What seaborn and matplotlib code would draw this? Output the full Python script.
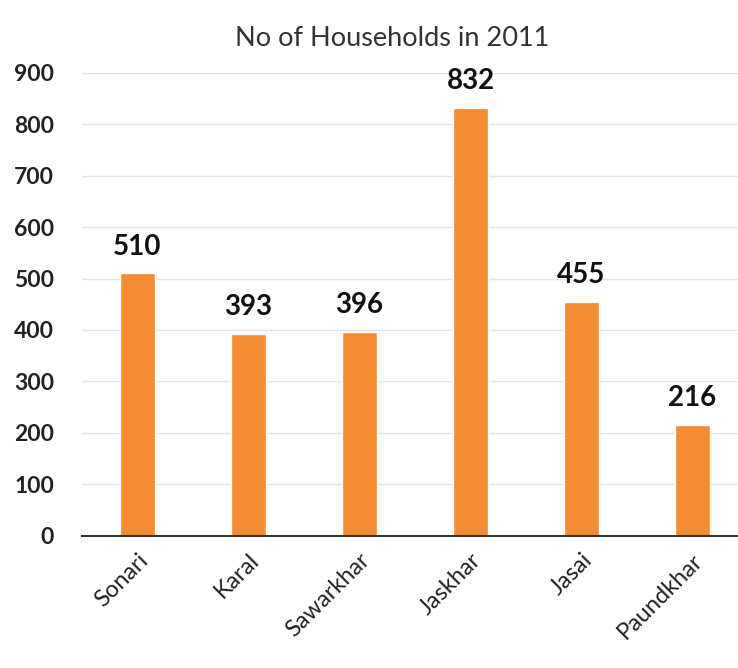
import pandas as pd
import matplotlib
matplotlib.use("Agg")
import matplotlib.pyplot as plt
import seaborn as sns

# data
villages = ["Sonari", "Karal", "Sawarkhar", "Jaskhar", "Jasai", "Paundkhar"]
households = [510, 393, 396, 832, 455, 216]
yticks = [0, 100, 200, 300, 400, 500, 600, 700, 800, 900]

df = pd.DataFrame({"Village": villages, "Households": households})

sns.set_style("white")
plt.rcParams["font.family"] = ["Lato", "DejaVu Sans"]

fig = plt.figure(figsize=(7.38, 6.68), dpi=100)
ax = fig.add_axes([0.111, 0.198, 0.889, 0.693])

sns.barplot(x="Village", y="Households", data=df, color="#F58B33",
            width=0.31, saturation=1, ax=ax)

ax.set_ylim(0, 900)
ax.set_xlim(-0.5, 5.41)
ax.set_yticks(yticks)
ax.set_yticklabels([str(t) for t in yticks], fontsize=16.5, fontweight="bold",
                   color="#222222")
ax.set_xticks(range(len(villages)))
ax.set_xticklabels(villages, rotation=45, ha="right", rotation_mode="anchor",
                   fontsize=17, color="#222222")
ax.tick_params(axis="both", length=0)
ax.tick_params(axis="y", pad=20)
ax.tick_params(axis="x", pad=10)

ax.yaxis.grid(True, color="#e4e4e4", linewidth=1)
ax.set_axisbelow(True)
for s in ["top", "right", "left"]:
    ax.spines[s].set_visible(False)
ax.spines["bottom"].set_color("#333333")
ax.spines["bottom"].set_linewidth(1.5)

# value labels
for i, v in enumerate(households):
    ax.annotate(str(v), (i, v), xytext=(0, 10), textcoords="offset points",
                ha="center", va="bottom", fontsize=20, fontweight="bold",
                color="#111111")

ax.set_xlabel("")
ax.set_ylabel("")
fig.text(0.531, 0.943, "No of Households in 2011", ha="center", va="center",
         fontsize=19.5, color="#333333")

plt.savefig("out.png", dpi=100)
